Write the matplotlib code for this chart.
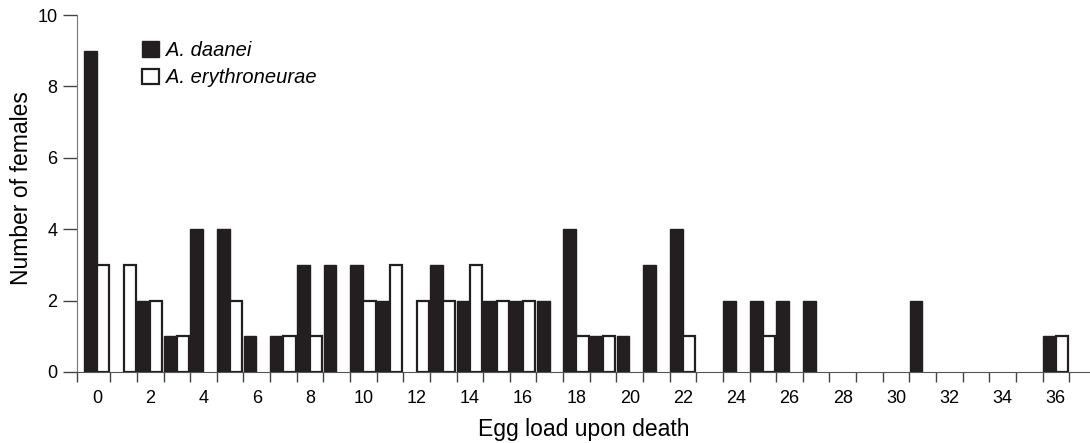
import numpy as np
import matplotlib.pyplot as plt
from matplotlib.patches import Patch

# datos: numero de hembras por carga de huevos
carga = np.arange(0, 37)
daanei = [9, 0, 2, 1, 4, 4, 1, 1, 3, 3, 3, 2, 0, 3, 2, 2, 2, 2, 4, 1, 1, 3, 4, 0,
          2, 2, 2, 2, 0, 0, 0, 2, 0, 0, 0, 0, 1]
erythroneurae = [3, 3, 2, 1, 0, 2, 0, 1, 1, 0, 2, 3, 2, 2, 3, 2, 2, 0, 1, 1, 0, 0, 1, 0,
                 0, 1, 0, 0, 0, 0, 0, 0, 0, 0, 0, 0, 1]
etiquetas_x = list(range(0, 37, 2))

plt.rcParams['font.family'] = ['Liberation Sans', 'DejaVu Sans']
oscuro = '#231f20'

fig = plt.figure(figsize=(10.9, 4.43), dpi=100)
ax = fig.add_axes([0.0706, 0.1603, 0.9294, 0.8057])

# solo se dibujan las barras con valor distinto de cero
d = np.array(daanei)
e = np.array(erythroneurae)
ax.bar(carga[d > 0] - 0.49, d[d > 0], width=0.48, align='edge', color=oscuro,
       edgecolor=oscuro, linewidth=1)
ax.bar(carga[e > 0], e[e > 0], width=0.46, align='edge', color='white',
       edgecolor=oscuro, linewidth=1.6)

ax.set_xlim(-0.75, 37.28)
ax.set_ylim(0, 10)

# marcas entre categorias, etiquetas en el centro
ax.set_xticks([-0.75] + list(carga + 0.5))
ax.set_xticklabels([])
ax.set_xticks(etiquetas_x, minor=True)
ax.set_xticklabels([str(v) for v in etiquetas_x], minor=True, fontsize=13)
ax.tick_params(axis='x', which='major', direction='out', length=7, width=1, color='#444444')
ax.tick_params(axis='x', which='minor', length=0, pad=13)
ax.set_yticks(range(0, 11, 2))
ax.tick_params(axis='y', direction='out', length=10, width=1, color='#444444',
               labelsize=13, pad=4)

for lado in ['top', 'right']:
    ax.spines[lado].set_visible(False)
ax.spines['left'].set_color('#777777')
ax.spines['bottom'].set_color('#555555')

ax.set_xlabel("Egg load upon death", fontsize=16.5, labelpad=8)
ax.set_ylabel("Number of females", fontsize=16.5, va='center')
ax.yaxis.set_label_coords(-0.055, 0.514)

manejadores = [Patch(facecolor=oscuro, edgecolor=oscuro, label='A. daanei'),
               Patch(facecolor='white', edgecolor=oscuro, linewidth=1.6, label='A. erythroneurae')]
ax.legend(handles=manejadores, loc='upper left', bbox_to_anchor=(142 / 1090, 1 - 41 / 443),
          bbox_transform=fig.transFigure, frameon=False, prop={'style': 'italic', 'size': 14.5},
          handlelength=0.82, handleheight=0.82, handletextpad=0.35, labelspacing=0.42,
          borderaxespad=0, borderpad=0)

fig.savefig('out.png', dpi=100)
